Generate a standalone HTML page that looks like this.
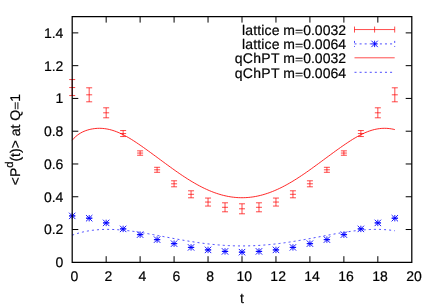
<!DOCTYPE html>
<html><head><meta charset="utf-8"><title>plot</title>
<style>
html,body{margin:0;padding:0;background:#fff;}
svg{display:block;will-change:transform;}
text{text-rendering:geometricPrecision;font-family:"Liberation Sans",sans-serif;font-size:14px;fill:#000;stroke:#000;stroke-width:0.2px;}
</style></head><body>
<svg width="436" height="305" viewBox="0 0 436 305">
<rect width="436" height="305" fill="#fff"/>

<path d="M72.20,140.21 L73.90,138.31 L75.60,136.67 L77.29,135.25 L78.99,134.03 L80.69,132.98 L82.39,132.07 L84.09,131.30 L85.78,130.64 L87.48,130.08 L89.18,129.60 L90.88,129.20 L92.58,128.88 L94.27,128.63 L95.97,128.45 L97.67,128.34 L99.37,128.30 L101.07,128.34 L102.76,128.44 L104.46,128.61 L106.16,128.86 L107.86,129.16 L109.56,129.54 L111.25,129.98 L112.95,130.48 L114.65,131.04 L116.35,131.66 L118.05,132.34 L119.74,133.08 L121.44,133.86 L123.14,134.70 L124.84,135.58 L126.54,136.51 L128.23,137.48 L129.93,138.48 L131.63,139.52 L133.33,140.59 L135.03,141.69 L136.72,142.82 L138.42,143.96 L140.12,145.13 L141.82,146.31 L143.52,147.51 L145.21,148.71 L146.91,149.93 L148.61,151.16 L150.31,152.39 L152.01,153.63 L153.70,154.88 L155.40,156.12 L157.10,157.37 L158.80,158.63 L160.50,159.88 L162.19,161.13 L163.89,162.38 L165.59,163.63 L167.29,164.87 L168.99,166.11 L170.68,167.34 L172.38,168.57 L174.08,169.78 L175.78,170.99 L177.48,172.18 L179.17,173.35 L180.87,174.51 L182.57,175.66 L184.27,176.78 L185.97,177.89 L187.66,178.97 L189.36,180.04 L191.06,181.08 L192.76,182.10 L194.46,183.09 L196.15,184.06 L197.85,185.00 L199.55,185.92 L201.25,186.80 L202.95,187.66 L204.64,188.48 L206.34,189.28 L208.04,190.04 L209.74,190.77 L211.44,191.46 L213.13,192.13 L214.83,192.75 L216.53,193.34 L218.23,193.90 L219.93,194.42 L221.62,194.91 L223.32,195.35 L225.02,195.76 L226.72,196.13 L228.42,196.47 L230.11,196.76 L231.81,197.02 L233.51,197.23 L235.21,197.41 L236.91,197.55 L238.60,197.65 L240.30,197.70 L242.00,197.72 L243.70,197.70 L245.40,197.64 L247.09,197.54 L248.79,197.41 L250.49,197.23 L252.19,197.01 L253.89,196.75 L255.58,196.46 L257.28,196.13 L258.98,195.75 L260.68,195.35 L262.38,194.90 L264.07,194.42 L265.77,193.89 L267.47,193.34 L269.17,192.75 L270.87,192.12 L272.56,191.46 L274.26,190.76 L275.96,190.03 L277.66,189.27 L279.36,188.48 L281.05,187.66 L282.75,186.80 L284.45,185.92 L286.15,185.01 L287.85,184.07 L289.54,183.10 L291.24,182.11 L292.94,181.09 L294.64,180.05 L296.34,178.99 L298.03,177.90 L299.73,176.79 L301.43,175.67 L303.13,174.52 L304.83,173.36 L306.52,172.19 L308.22,171.00 L309.92,169.79 L311.62,168.58 L313.32,167.35 L315.01,166.12 L316.71,164.88 L318.41,163.63 L320.11,162.38 L321.81,161.13 L323.50,159.87 L325.20,158.62 L326.90,157.36 L328.60,156.11 L330.30,154.86 L331.99,153.62 L333.69,152.38 L335.39,151.15 L337.09,149.92 L338.79,148.71 L340.48,147.50 L342.18,146.31 L343.88,145.13 L345.58,143.97 L347.28,142.83 L348.97,141.70 L350.67,140.61 L352.37,139.53 L354.07,138.49 L355.77,137.49 L357.46,136.52 L359.16,135.59 L360.86,134.70 L362.56,133.87 L364.26,133.08 L365.95,132.34 L367.65,131.66 L369.35,131.04 L371.05,130.47 L372.75,129.97 L374.44,129.53 L376.14,129.16 L377.84,128.85 L379.54,128.61 L381.24,128.43 L382.93,128.33 L384.63,128.30 L386.33,128.34 L388.03,128.45 L389.73,128.63 L391.42,128.88 L393.12,129.20 L394.82,129.60" fill="none" stroke="#f00" stroke-width="0.85"/>
<path d="M72.20,235.19 L73.90,234.59 L75.60,234.02 L77.29,233.49 L78.99,233.00 L80.69,232.54 L82.39,232.12 L84.09,231.73 L85.78,231.38 L87.48,231.06 L89.18,230.77 L90.88,230.50 L92.58,230.27 L94.27,230.07 L95.97,229.90 L97.67,229.75 L99.37,229.62 L101.07,229.53 L102.76,229.45 L104.46,229.40 L106.16,229.38 L107.86,229.37 L109.56,229.39 L111.25,229.42 L112.95,229.48 L114.65,229.55 L116.35,229.64 L118.05,229.75 L119.74,229.87 L121.44,230.01 L123.14,230.17 L124.84,230.34 L126.54,230.52 L128.23,230.71 L129.93,230.92 L131.63,231.14 L133.33,231.37 L135.03,231.61 L136.72,231.86 L138.42,232.12 L140.12,232.38 L141.82,232.66 L143.52,232.94 L145.21,233.22 L146.91,233.52 L148.61,233.82 L150.31,234.12 L152.01,234.43 L153.70,234.74 L155.40,235.05 L157.10,235.37 L158.80,235.69 L160.50,236.01 L162.19,236.33 L163.89,236.65 L165.59,236.97 L167.29,237.29 L168.99,237.61 L170.68,237.93 L172.38,238.25 L174.08,238.57 L175.78,238.88 L177.48,239.19 L179.17,239.50 L180.87,239.80 L182.57,240.10 L184.27,240.39 L185.97,240.68 L187.66,240.97 L189.36,241.25 L191.06,241.52 L192.76,241.79 L194.46,242.05 L196.15,242.31 L197.85,242.56 L199.55,242.80 L201.25,243.03 L202.95,243.26 L204.64,243.48 L206.34,243.69 L208.04,243.89 L209.74,244.08 L211.44,244.27 L213.13,244.44 L214.83,244.61 L216.53,244.77 L218.23,244.92 L219.93,245.05 L221.62,245.18 L223.32,245.30 L225.02,245.41 L226.72,245.51 L228.42,245.60 L230.11,245.68 L231.81,245.74 L233.51,245.80 L235.21,245.85 L236.91,245.89 L238.60,245.91 L240.30,245.93 L242.00,245.93 L243.70,245.93 L245.40,245.91 L247.09,245.89 L248.79,245.85 L250.49,245.80 L252.19,245.74 L253.89,245.68 L255.58,245.60 L257.28,245.51 L258.98,245.41 L260.68,245.30 L262.38,245.18 L264.07,245.05 L265.77,244.92 L267.47,244.77 L269.17,244.61 L270.87,244.44 L272.56,244.27 L274.26,244.08 L275.96,243.89 L277.66,243.69 L279.36,243.48 L281.05,243.26 L282.75,243.03 L284.45,242.80 L286.15,242.56 L287.85,242.31 L289.54,242.05 L291.24,241.79 L292.94,241.52 L294.64,241.25 L296.34,240.97 L298.03,240.68 L299.73,240.39 L301.43,240.10 L303.13,239.80 L304.83,239.50 L306.52,239.19 L308.22,238.88 L309.92,238.57 L311.62,238.25 L313.32,237.93 L315.01,237.61 L316.71,237.29 L318.41,236.97 L320.11,236.65 L321.81,236.33 L323.50,236.01 L325.20,235.69 L326.90,235.37 L328.60,235.05 L330.30,234.74 L331.99,234.43 L333.69,234.12 L335.39,233.82 L337.09,233.52 L338.79,233.22 L340.48,232.94 L342.18,232.66 L343.88,232.38 L345.58,232.12 L347.28,231.86 L348.97,231.61 L350.67,231.37 L352.37,231.14 L354.07,230.92 L355.77,230.71 L357.46,230.52 L359.16,230.34 L360.86,230.17 L362.56,230.01 L364.26,229.87 L365.95,229.75 L367.65,229.64 L369.35,229.55 L371.05,229.48 L372.75,229.42 L374.44,229.39 L376.14,229.37 L377.84,229.38 L379.54,229.40 L381.24,229.45 L382.93,229.53 L384.63,229.62 L386.33,229.75 L388.03,229.90 L389.73,230.07 L391.42,230.27 L393.12,230.50 L394.82,230.77" fill="none" stroke="#00f" stroke-width="0.7" stroke-dasharray="2.03 3.05"/>
<path d="M72.20,79.55V95.55M69.20,79.55H75.20M69.20,95.55H75.20M69.20,87.55H75.20M89.18,87.80V101.80M86.18,87.80H92.18M86.18,101.80H92.18M86.18,94.80H92.18M106.16,107.80V117.80M103.16,107.80H109.16M103.16,117.80H109.16M103.16,112.80H109.16M123.14,130.55V136.55M120.14,130.55H126.14M120.14,136.55H126.14M120.14,133.55H126.14M140.12,150.85V155.25M137.12,150.85H143.12M137.12,155.25H143.12M137.12,153.05H143.12M157.10,167.30V172.30M154.10,167.30H160.10M154.10,172.30H160.10M154.10,169.80H160.10M174.08,180.80V186.80M171.08,180.80H177.08M171.08,186.80H177.08M171.08,183.80H177.08M191.06,190.80V197.80M188.06,190.80H194.06M188.06,197.80H194.06M188.06,194.30H194.06M208.04,198.05V206.05M205.04,198.05H211.04M205.04,206.05H211.04M205.04,202.05H211.04M225.02,202.80V211.80M222.02,202.80H228.02M222.02,211.80H228.02M222.02,207.30H228.02M242.00,203.80V213.80M239.00,203.80H245.00M239.00,213.80H245.00M239.00,208.80H245.00M258.98,202.80V211.80M255.98,202.80H261.98M255.98,211.80H261.98M255.98,207.30H261.98M275.96,198.05V206.05M272.96,198.05H278.96M272.96,206.05H278.96M272.96,202.05H278.96M292.94,190.80V197.80M289.94,190.80H295.94M289.94,197.80H295.94M289.94,194.30H295.94M309.92,180.80V186.80M306.92,180.80H312.92M306.92,186.80H312.92M306.92,183.80H312.92M326.90,167.30V172.30M323.90,167.30H329.90M323.90,172.30H329.90M323.90,169.80H329.90M343.88,150.85V155.25M340.88,150.85H346.88M340.88,155.25H346.88M340.88,153.05H346.88M360.86,130.55V136.55M357.86,130.55H363.86M357.86,136.55H363.86M357.86,133.55H363.86M377.84,107.80V117.80M374.84,107.80H380.84M374.84,117.80H380.84M374.84,112.80H380.84M394.82,87.80V101.80M391.82,87.80H397.82M391.82,101.80H397.82M391.82,94.80H397.82" fill="none" stroke="#f00" stroke-width="0.72"/>
<path d="M69.20,215.90H75.20M69.00,215.90H75.40M72.20,212.70V219.10M69.00,212.70L75.40,219.10M69.00,219.10L75.40,212.70M86.18,218.20H92.18M85.98,218.20H92.38M89.18,215.00V221.40M85.98,215.00L92.38,221.40M85.98,221.40L92.38,215.00M103.16,222.90H109.16M102.96,222.90H109.36M106.16,219.70V226.10M102.96,219.70L109.36,226.10M102.96,226.10L109.36,219.70M120.14,228.90H126.14M119.94,228.90H126.34M123.14,225.70V232.10M119.94,225.70L126.34,232.10M119.94,232.10L126.34,225.70M137.12,234.65H143.12M136.92,234.65H143.32M140.12,231.45V237.85M136.92,231.45L143.32,237.85M136.92,237.85L143.32,231.45M154.10,239.65H160.10M153.90,239.65H160.30M157.10,236.45V242.85M153.90,236.45L160.30,242.85M153.90,242.85L160.30,236.45M171.08,243.65H177.08M170.88,243.65H177.28M174.08,240.45V246.85M170.88,240.45L177.28,246.85M170.88,246.85L177.28,240.45M188.06,247.40H194.06M187.86,247.40H194.26M191.06,244.20V250.60M187.86,244.20L194.26,250.60M187.86,250.60L194.26,244.20M205.04,249.90H211.04M204.84,249.90H211.24M208.04,246.70V253.10M204.84,246.70L211.24,253.10M204.84,253.10L211.24,246.70M222.02,251.40H228.02M221.82,251.40H228.22M225.02,248.20V254.60M221.82,248.20L228.22,254.60M221.82,254.60L228.22,248.20M239.00,252.15H245.00M238.80,252.15H245.20M242.00,248.95V255.35M238.80,248.95L245.20,255.35M238.80,255.35L245.20,248.95M255.98,251.40H261.98M255.78,251.40H262.18M258.98,248.20V254.60M255.78,248.20L262.18,254.60M255.78,254.60L262.18,248.20M272.96,249.90H278.96M272.76,249.90H279.16M275.96,246.70V253.10M272.76,246.70L279.16,253.10M272.76,253.10L279.16,246.70M289.94,247.40H295.94M289.74,247.40H296.14M292.94,244.20V250.60M289.74,244.20L296.14,250.60M289.74,250.60L296.14,244.20M306.92,243.65H312.92M306.72,243.65H313.12M309.92,240.45V246.85M306.72,240.45L313.12,246.85M306.72,246.85L313.12,240.45M323.90,239.65H329.90M323.70,239.65H330.10M326.90,236.45V242.85M323.70,236.45L330.10,242.85M323.70,242.85L330.10,236.45M340.88,234.65H346.88M340.68,234.65H347.08M343.88,231.45V237.85M340.68,231.45L347.08,237.85M340.68,237.85L347.08,231.45M357.86,228.90H363.86M357.66,228.90H364.06M360.86,225.70V232.10M357.66,225.70L364.06,232.10M357.66,232.10L364.06,225.70M374.84,222.90H380.84M374.64,222.90H381.04M377.84,219.70V226.10M374.64,219.70L381.04,226.10M374.64,226.10L381.04,219.70M391.82,218.20H397.82M391.62,218.20H398.02M394.82,215.00V221.40M391.62,215.00L398.02,221.40M391.62,221.40L398.02,215.00" fill="none" stroke="#00f" stroke-width="0.9"/>
<text x="279.59" y="34.75" text-anchor="end" letter-spacing="0.13">lattice</text>
<text x="283.35" y="34.75">m</text>
<text transform="translate(295.01,34.75) scale(1,0.744)">=</text>
<text x="303.19" y="34.75">0.0032</text>
<text x="279.59" y="49.10" text-anchor="end" letter-spacing="0.13">lattice</text>
<text x="283.35" y="49.10">m</text>
<text transform="translate(295.01,49.10) scale(1,0.744)">=</text>
<text x="303.19" y="49.10">0.0064</text>
<text x="279.76" y="63.00" text-anchor="end" letter-spacing="0.3">qChPT</text>
<text x="283.35" y="63.00">m</text>
<text transform="translate(295.01,63.00) scale(1,0.744)">=</text>
<text x="303.19" y="63.00">0.0032</text>
<text x="279.76" y="77.50" text-anchor="end" letter-spacing="0.3">qChPT</text>
<text x="283.35" y="77.50">m</text>
<text transform="translate(295.01,77.50) scale(1,0.744)">=</text>
<text x="303.19" y="77.50">0.0064</text>
<path d="M354.5,29.55H394.7M354.5,26.55V32.55M394.7,26.55V32.55M374.6,26.55V32.55" fill="none" stroke="#f00" stroke-width="0.7"/>
<path d="M354.5,43.9H394.7M354.5,40.9V46.9M394.7,40.9V46.9" fill="none" stroke="#00f" stroke-width="0.7" stroke-dasharray="2.03 3.05"/>
<path d="M371.40,43.90H377.80M374.60,40.70V47.10M371.40,40.70L377.80,47.10M371.40,47.10L377.80,40.70" fill="none" stroke="#00f" stroke-width="0.9"/>
<path d="M354.5,57.8H394.7" fill="none" stroke="#f00" stroke-width="0.7"/>
<path d="M354.5,72.3H394.7" fill="none" stroke="#00f" stroke-width="0.7" stroke-dasharray="2.03 3.05"/>
<path d="M72.2,16.5H411.8V262.3H72.2Z" fill="none" stroke="#000" stroke-width="1.25"/>
<path d="M106.16,262.3v-6.1M106.16,16.5v6.1M140.12,262.3v-6.1M140.12,16.5v6.1M174.07999999999998,262.3v-6.1M174.07999999999998,16.5v6.1M208.04000000000002,262.3v-6.1M208.04000000000002,16.5v6.1M242.0,262.3v-6.1M242.0,16.5v6.1M275.96,262.3v-6.1M275.96,16.5v6.1M309.92,262.3v-6.1M309.92,16.5v6.1M343.88,262.3v-6.1M343.88,16.5v6.1M377.84,262.3v-6.1M377.84,16.5v6.1M72.2,229.53h6.1M411.8,229.53h-6.1M72.2,196.75h6.1M411.8,196.75h-6.1M72.2,163.98h6.1M411.8,163.98h-6.1M72.2,131.21h6.1M411.8,131.21h-6.1M72.2,98.43h6.1M411.8,98.43h-6.1M72.2,65.66h6.1M411.8,65.66h-6.1M72.2,32.89h6.1M411.8,32.89h-6.1" fill="none" stroke="#000" stroke-width="1.0"/>
<text x="74.40" y="281.3" text-anchor="middle">0</text>
<text x="108.36" y="281.3" text-anchor="middle">2</text>
<text x="142.32" y="281.3" text-anchor="middle">4</text>
<text x="176.28" y="281.3" text-anchor="middle">6</text>
<text x="210.24" y="281.3" text-anchor="middle">8</text>
<text x="244.20" y="281.3" text-anchor="middle">10</text>
<text x="278.16" y="281.3" text-anchor="middle">12</text>
<text x="312.12" y="281.3" text-anchor="middle">14</text>
<text x="346.08" y="281.3" text-anchor="middle">16</text>
<text x="380.04" y="281.3" text-anchor="middle">18</text>
<text x="414.00" y="281.3" text-anchor="middle">20</text>
<text x="63.4" y="267.25" text-anchor="end">0</text>
<text x="63.4" y="234.48" text-anchor="end">0.2</text>
<text x="63.4" y="201.70" text-anchor="end">0.4</text>
<text x="63.4" y="168.93" text-anchor="end">0.6</text>
<text x="63.4" y="136.16" text-anchor="end">0.8</text>
<text x="63.4" y="103.38" text-anchor="end">1</text>
<text x="63.4" y="70.61" text-anchor="end">1.2</text>
<text x="63.4" y="37.84" text-anchor="end">1.4</text>
<text x="242" y="302.6" text-anchor="middle">t</text>
<g transform="translate(19.5,185.3) rotate(-90)"><text x="0" y="0">&lt;P</text><text x="17.51" y="-6.5" style="font-size:11.2px">d</text><text x="23.74" y="0">(t)&gt; at Q</text><text transform="translate(75.48,0) scale(1,0.744)">=</text><text x="83.66" y="0">1</text></g>
</svg></body></html>
